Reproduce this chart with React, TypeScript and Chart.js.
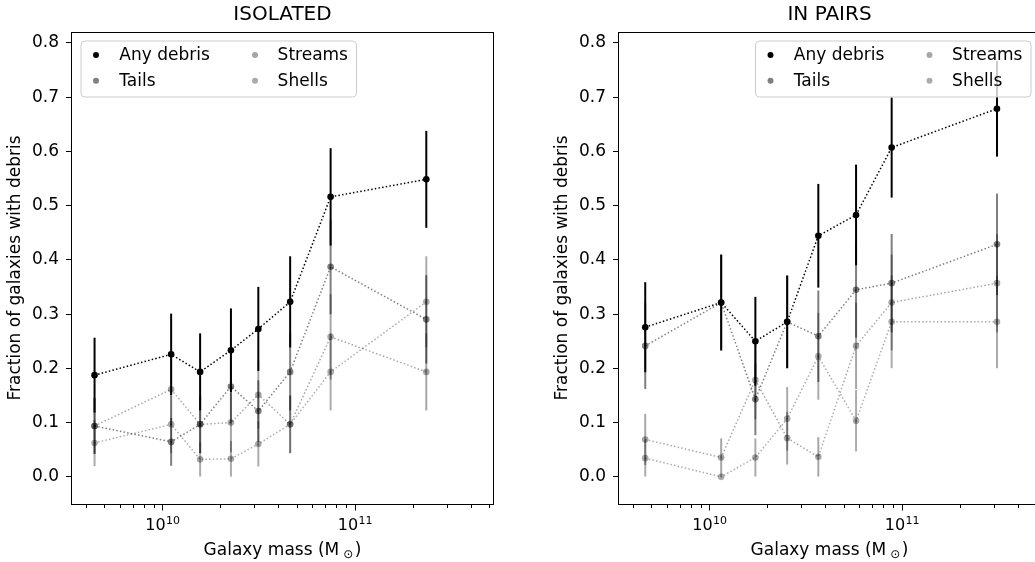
import React, { useEffect, useRef } from 'react';
import { Chart, registerables } from 'chart.js';

Chart.register(...registerables);

// ---------------- DATA ----------------
const seriesLabels = ['Any debris', 'Tails', 'Streams', 'Shells'];

const massIsolated = [4.44e9, 1.11e10, 1.57e10, 2.27e10, 3.15e10, 4.61e10, 7.48e10, 2.35e11];
const anyIso = [0.1875, 0.2258, 0.1935, 0.2333, 0.2727, 0.3226, 0.5161, 0.5484];
const anyIsoErr = [0.069, 0.0751, 0.071, 0.0772, 0.0775, 0.084, 0.0898, 0.0894];
const tailsIso = [0.0938, 0.0645, 0.0968, 0.1667, 0.1212, 0.1935, 0.3871, 0.2903];
const tailsIsoErr = [0.0515, 0.0441, 0.0531, 0.068, 0.0568, 0.071, 0.0875, 0.0815];
const streamsIso = [0.0938, 0.1613, 0.0968, 0.1, 0.1515, 0.0968, 0.2581, 0.1935];
const streamsIsoErr = [0.0515, 0.0661, 0.0531, 0.0548, 0.0624, 0.0531, 0.0786, 0.071];
const shellsIso = [0.0625, 0.0968, 0.0323, 0.0333, 0.0606, 0.0968, 0.1935, 0.3226];
const shellsIsoErr = [0.0428, 0.0531, 0.0317, 0.0328, 0.0415, 0.0531, 0.071, 0.084];

const massPairs = [4.64e9, 1.151e10, 1.733e10, 2.535e10, 3.68e10, 5.78e10, 8.85e10, 3.12e11];
const anyPair = [0.2759, 0.3214, 0.25, 0.2857, 0.4444, 0.4828, 0.6071, 0.6786];
const anyPairErr = [0.083, 0.0883, 0.0818, 0.0854, 0.0956, 0.0928, 0.0923, 0.0883];
const tailsPair = [0.2414, 0.3214, 0.1429, 0.2857, 0.2593, 0.3448, 0.3571, 0.4286];
const tailsPairErr = [0.0795, 0.0883, 0.0661, 0.0854, 0.0843, 0.0883, 0.0906, 0.0935];
const streamsPair = [0.069, 0.0357, 0.1786, 0.0714, 0.037, 0.2414, 0.3214, 0.3571];
const streamsPairErr = [0.0471, 0.0351, 0.0724, 0.0487, 0.0363, 0.0795, 0.0883, 0.0906];
const shellsPair = [0.0345, 0, 0.0357, 0.1071, 0.2222, 0.1034, 0.2857, 0.2857];
const shellsPairErr = [0.0339, 0, 0.0351, 0.0585, 0.08, 0.0566, 0.0854, 0.0854];

const yTickValues = [0, 0.1, 0.2, 0.3, 0.4, 0.5, 0.6, 0.7, 0.8];
const xMajorTicks = [1e10, 1e11];
const xMinorTicks = [4e9, 5e9, 6e9, 7e9, 8e9, 9e9, 2e10, 3e10, 4e10, 5e10, 6e10, 7e10, 8e10, 9e10, 2e11, 3e11, 4e11, 5e11];

// ---------------- STYLE ----------------
const FONT = "'DejaVu Sans', 'Liberation Sans', sans-serif";
const seriesColors = ['#000000', 'rgba(0,0,0,0.5)', 'rgba(0,0,0,0.35)', 'rgba(0,0,0,0.33)'];
const X_MIN = 3.39e9;
const X_MAX = 5.22e11;
const Y_MIN = -0.05;
const Y_MAX = 0.82;
const CANVAS_W = 520;
const CANVAS_H = 562;

function buildDatasets(mass: number[], vals: number[][], errs: number[][]) {
  return vals.map((v, k) => ({
    label: seriesLabels[k],
    data: mass.map((m, i) => ({ x: m, y: v[i] })),
    errors: errs[k],
    borderColor: seriesColors[k],
    backgroundColor: seriesColors[k],
    pointBackgroundColor: seriesColors[k],
    pointBorderColor: seriesColors[k],
    borderWidth: 1.5,
    borderDash: [1.5, 2.2],
    pointRadius: 3.3,
    pointHoverRadius: 3.3,
    pointBorderWidth: 0,
    tension: 0,
    fill: false,
    order: 3 - k,
  }));
}

const mplPlugin = {
  id: 'mplLook',
  beforeDatasetDraw(chart: any, args: any) {
    const ds = chart.data.datasets[args.index];
    const errs = ds.errors;
    if (!errs) return;
    const xs = chart.scales.x;
    const ys = chart.scales.y;
    const ctx = chart.ctx;
    ctx.save();
    ctx.strokeStyle = ds.borderColor;
    ctx.lineWidth = 2;
    ctx.setLineDash([]);
    ds.data.forEach((p: any, i: number) => {
      const e = errs[i];
      if (!e) return;
      const x = xs.getPixelForValue(p.x);
      ctx.beginPath();
      ctx.moveTo(x, ys.getPixelForValue(p.y - e));
      ctx.lineTo(x, ys.getPixelForValue(p.y + e));
      ctx.stroke();
    });
    ctx.restore();
  },
  afterDraw(chart: any) {
    const ctx = chart.ctx;
    const ca = chart.chartArea;
    const xs = chart.scales.x;
    const opts = chart.options.plugins.mplLook || {};
    ctx.save();
    // plot frame
    ctx.strokeStyle = '#000';
    ctx.lineWidth = 1;
    ctx.setLineDash([]);
    const l = Math.round(ca.left) - 0.5;
    const t = Math.round(ca.top) + 0.5;
    const r = Math.round(ca.right) + 0.5;
    const b = Math.round(ca.bottom) + 0.5;
    ctx.strokeRect(l, t, r - l, b - t);

    // x ticks
    const drawTick = (v: number, len: number) => {
      const x = Math.round(xs.getPixelForValue(v)) + 0.5;
      ctx.beginPath();
      ctx.moveTo(x, b);
      ctx.lineTo(x, b + len);
      ctx.stroke();
    };
    xMinorTicks.forEach((v) => drawTick(v, 3.5));
    xMajorTicks.forEach((v) => drawTick(v, 6));

    // x tick labels 10^n
    ctx.fillStyle = '#000';
    ctx.textAlign = 'left';
    ctx.textBaseline = 'alphabetic';
    xMajorTicks.forEach((v) => {
      const exp = String(Math.round(Math.log10(v)));
      const x = xs.getPixelForValue(v);
      ctx.font = `16px ${FONT}`;
      const wb = ctx.measureText('10').width;
      ctx.font = `11px ${FONT}`;
      const we = ctx.measureText(exp).width;
      const start = x - (wb + we) / 2;
      const yb = ca.bottom + 26;
      ctx.font = `16px ${FONT}`;
      ctx.fillText('10', start, yb);
      ctx.font = `11px ${FONT}`;
      ctx.fillText(exp, start + wb + 0.5, yb - 6.5);
    });

    // x axis title with subscript
    const t1 = 'Galaxy mass (M';
    const sub = '\u2299';
    const t3 = ')';
    ctx.font = `17px ${FONT}`;
    const w1 = ctx.measureText(t1).width;
    const w3 = ctx.measureText(t3).width;
    ctx.font = `12px ${FONT}`;
    const w2 = ctx.measureText(sub).width;
    const g1 = 4;
    const g2 = 1.5;
    const total = w1 + g1 + w2 + g2 + w3;
    const cx = (ca.left + ca.right) / 2;
    let sx = cx - total / 2;
    const by = ca.bottom + 51;
    ctx.font = `17px ${FONT}`;
    ctx.fillText(t1, sx, by);
    sx += w1 + g1;
    ctx.font = `12px ${FONT}`;
    ctx.fillText(sub, sx, by + 3);
    sx += w2 + g2;
    ctx.font = `17px ${FONT}`;
    ctx.fillText(t3, sx, by);

    // legend
    const bw = 275.5;
    const bh = 56;
    const bx = opts.legendSide === 'right' ? ca.right - 9 - bw : ca.left + 9;
    const bty = ca.top + 9;
    ctx.beginPath();
    const rad = 4;
    ctx.moveTo(bx + rad, bty);
    ctx.lineTo(bx + bw - rad, bty);
    ctx.arcTo(bx + bw, bty, bx + bw, bty + rad, rad);
    ctx.lineTo(bx + bw, bty + bh - rad);
    ctx.arcTo(bx + bw, bty + bh, bx + bw - rad, bty + bh, rad);
    ctx.lineTo(bx + rad, bty + bh);
    ctx.arcTo(bx, bty + bh, bx, bty + bh - rad, rad);
    ctx.lineTo(bx, bty + rad);
    ctx.arcTo(bx, bty, bx + rad, bty, rad);
    ctx.closePath();
    ctx.fillStyle = 'rgba(255,255,255,0.8)';
    ctx.fill();
    ctx.strokeStyle = '#cccccc';
    ctx.lineWidth = 1;
    ctx.stroke();

    const markerX = [15, 174];
    const textX = [38.3, 196.6];
    const rowY = [14, 39.7];
    chart.data.datasets.forEach((ds: any, i: number) => {
      const col = Math.floor(i / 2);
      const row = i % 2;
      ctx.fillStyle = ds.pointBackgroundColor;
      ctx.beginPath();
      ctx.arc(bx + markerX[col], bty + rowY[row], 3, 0, Math.PI * 2);
      ctx.fill();
      ctx.fillStyle = '#000';
      ctx.font = `17px ${FONT}`;
      ctx.textBaseline = 'middle';
      ctx.textAlign = 'left';
      ctx.fillText(ds.label, bx + textX[col], bty + rowY[row] + 1);
    });
    ctx.restore();
  },
};

function makeConfig(title: string, mass: number[], vals: number[][], errs: number[][], legendSide: string): any {
  return {
    type: 'line',
    data: { datasets: buildDatasets(mass, vals, errs) },
    plugins: [mplPlugin],
    options: {
      animation: false,
      responsive: false,
      devicePixelRatio: 1,
      layout: { padding: { left: 0, right: 27, top: 0, bottom: 58 }, autoPadding: false },
      events: [],
      plugins: {
        legend: { display: false },
        tooltip: { enabled: false },
        title: {
          display: true,
          text: title,
          fullSize: false,
          color: '#000',
          font: { family: FONT, size: 20, weight: 'normal' },
          padding: { top: 3, bottom: 5 },
        },
        mplLook: { legendSide },
      },
      scales: {
        x: {
          type: 'logarithmic',
          min: X_MIN,
          max: X_MAX,
          display: false,
        },
        y: {
          type: 'linear',
          min: Y_MIN,
          max: Y_MAX,
          afterBuildTicks: (s: any) => {
            s.ticks = yTickValues.map((v) => ({ value: v }));
          },
          afterFit: (s: any) => {
            s.width = 72;
          },
          ticks: {
            autoSkip: false,
            padding: 7,
            color: '#000',
            font: { family: FONT, size: 17 },
            callback: (v: any) => Number(v).toFixed(1),
          },
          grid: {
            drawOnChartArea: false,
            drawTicks: true,
            tickLength: 6,
            tickColor: '#000',
            tickWidth: 1,
          },
          border: { display: false },
          title: {
            display: true,
            text: 'Fraction of galaxies with debris',
            color: '#000',
            font: { family: FONT, size: 17 },
            padding: { top: 5.6, bottom: 0 },
          },
        },
      },
    },
  };
}

export default function App() {
  const leftRef = useRef<HTMLCanvasElement | null>(null);
  const rightRef = useRef<HTMLCanvasElement | null>(null);

  useEffect(() => {
    const c1 = new Chart(
      leftRef.current as HTMLCanvasElement,
      makeConfig(
        'ISOLATED',
        massIsolated,
        [anyIso, tailsIso, streamsIso, shellsIso],
        [anyIsoErr, tailsIsoErr, streamsIsoErr, shellsIsoErr],
        'left'
      )
    );
    const c2 = new Chart(
      rightRef.current as HTMLCanvasElement,
      makeConfig(
        'IN PAIRS',
        massPairs,
        [anyPair, tailsPair, streamsPair, shellsPair],
        [anyPairErr, tailsPairErr, streamsPairErr, shellsPairErr],
        'right'
      )
    );
    return () => {
      c1.destroy();
      c2.destroy();
    };
  }, []);

  return (
    <div
      style={{
        position: 'fixed',
        left: 0,
        top: 0,
        width: 1035,
        height: 562,
        overflow: 'hidden',
        background: '#fff',
      }}
    >
      <canvas
        ref={leftRef}
        width={CANVAS_W}
        height={CANVAS_H}
        style={{ position: 'absolute', left: 0, top: 0, width: CANVAS_W, height: CANVAS_H }}
      />
      <canvas
        ref={rightRef}
        width={CANVAS_W}
        height={CANVAS_H}
        style={{ position: 'absolute', left: 547, top: 0, width: CANVAS_W, height: CANVAS_H }}
      />
    </div>
  );
}
